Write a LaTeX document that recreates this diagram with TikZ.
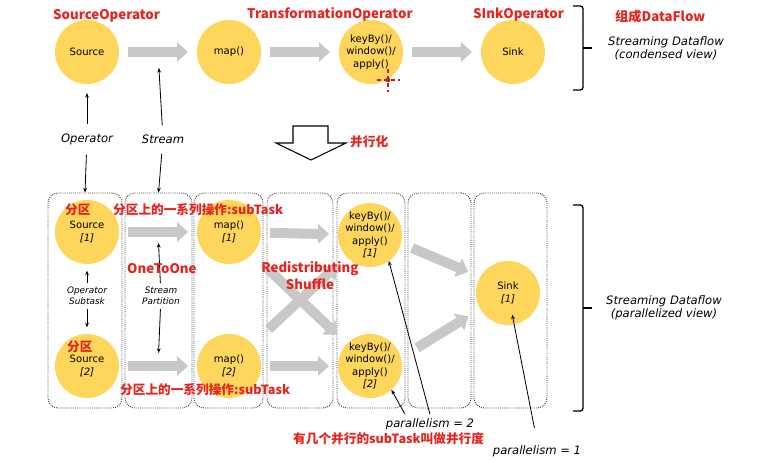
\documentclass[tikz,border=0pt]{standalone}
\usepackage{fontspec}
\setmainfont{DejaVu Sans}
\newfontfamily\cjk{Noto Sans CJK SC}
\usepackage{tikz}
\usetikzlibrary{arrows.meta,calc}
\definecolor{opyellow}{RGB}{254,214,92}
\definecolor{flowgray}{RGB}{200,200,200}
\definecolor{hlred}{RGB}{232,34,28}

\begin{document}
\begin{tikzpicture}[x=0.3mm, y=-0.3mm,
      op/.style={circle, fill=opyellow, minimum size=19.2mm, inner sep=-6pt, outer sep=0pt,
        align=center, font=\fontsize{8.6}{10.7}\selectfont},
      flow/.style={draw=flowgray, line width=3mm,
        -{Triangle[width=6mm,length=3.3mm,line width=0pt]}, shorten <=2.7mm, shorten >=2.7mm},
      ptr/.style={-{Stealth[length=4pt,width=3.2pt]}, line width=0.7pt},
      note/.style={font=\fontsize{9.9}{11}\selectfont\itshape, align=center},
      subnote/.style={font=\fontsize{7.6}{9.4}\selectfont\itshape, align=center},
      redlabel/.style={text=hlred, inner sep=0pt, font=\cjk\bfseries\fontsize{11.3}{14.5}\selectfont},
      redsmall/.style={redlabel, font=\cjk\bfseries\fontsize{10.8}{14}\selectfont},
      partbox/.style={draw=black!75, densely dotted, line width=0.8pt, rounded corners=3mm,
        minimum height=64.5mm, inner sep=0pt},
      bracket/.style={line width=1.1pt, rounded corners=0.8mm}]
      \useasboundingbox (0,0) rectangle (771,461);
      \foreach \i/\l/\r in {1/48/122,2/125/192,3/194/263,4/267/333,5/337/405,6/408/471,7/474/547}
        \node[partbox, minimum width={(\r-\l)*0.3mm}] (p\i) at ({(\l+\r)/2},300.5) {};

      % condensed view
      \node[op] (src) at (87,52) {Source};
      \node[op] (map) at (229,52) {map()};
      \node[op] (kb) at (371,52) {keyBy()/\\window()/\\apply()};
      \node[op] (sink) at (513,52) {Sink};
      \draw[flow] (src) -- coordinate (strm) (map);
      \draw[flow] (map) -- (kb);
      \draw[flow] (kb) -- (sink);

      % parallelized view
      \node[op] (src1) at (87,232) {Source\\\textit{[1]}};
      \node[op] (src2) at (87,366) {Source\\\textit{[2]}};
      \node[op] (map1) at (229,232) {map()\\\textit{[1]}};
      \node[op] (map2) at (229,366) {map()\\\textit{[2]}};
      \node[op] (kb1) at (370,235) {keyBy()/\\window()/\\apply()\\\textit{[1]}};
      \node[op] (kb2) at (370,366) {keyBy()/\\window()/\\apply()\\\textit{[2]}};
      \node[op] (sink1) at (508,293) {Sink\\\textit{[1]}};
      \draw[flow] (src1) -- coordinate (sp1) (map1);
      \draw[flow] (src2) -- coordinate (sp2) (map2);
      \draw[flow] (map1) -- (kb1);
      \draw[flow] (map2) -- (kb2);
      \draw[flow, shorten <=6.6mm, shorten >=4mm] (map1) -- (kb2);
      \draw[flow, shorten <=6.6mm, shorten >=4mm] (map2) -- (kb1);
      \draw[flow, shorten <=3.6mm, shorten >=3.9mm] (kb1.-15) -- (sink1.150);
      \draw[flow, shorten <=5.7mm, shorten >=4.2mm] (kb2.15) -- (sink1.-150);

      \node[note] (oplbl) at (87,139) {Operator};
      \node[note] (stlbl) at (163,139) {Stream};
      \draw[ptr, shorten <=1.5mm, shorten >=2.7mm] (oplbl) -- (src);
      \draw[ptr, shorten <=1.8mm] (oplbl) -- (p1.north);
      \draw[ptr, shorten <=1.5mm, shorten >=4.8mm] (stlbl) -- (strm);
      \draw[ptr, shorten <=1.8mm] (stlbl) -- (p2.north);

      \node[subnote] (osub) at (87,296) {Operator\\Subtask};
      \node[subnote] (spart) at (161,296) {Stream\\Partition};
      \draw[ptr, shorten >=2mm] (osub) -- (src1);
      \draw[ptr, shorten >=2mm] (osub) -- (src2);
      \draw[ptr, shorten >=3.3mm] (spart) -- (sp1);
      \draw[ptr, shorten >=3.9mm] (spart) -- (sp2);

      \node[note] (par2) at (430,424) {parallelism = 2};
      \node[note] (par1) at (537,451) {parallelism = 1};
      \draw[ptr] (par2.north) -- (kb1.-54);
      \draw[ptr] ([xshift=-7.5mm]par2.north) -- (kb2.-48);
      \draw[ptr, shorten <=4mm, shorten >=6.6mm] (par1.north) -- (sink1.center);

      % parallelize arrow
      \draw[line width=0.9pt] (293,126) -- (328,126) -- (328,143) -- (346,143) -- (311,160)
        -- (276,143) -- (293,143) -- cycle;

      \draw[bracket] (573,6) -| (583,90) -- (573,90);
      \draw[line width=1.1pt] (583,48) -- (592,48);
      \draw[bracket] (573,205) -| (583,411) -- (573,411);
      \draw[line width=1.1pt] (583,308) -- (592,308);
      \node[note] (cview) at (666,48) {Streaming Dataflow\\(condensed view)};
      \node[note] (pview) at (664,308) {Streaming Dataflow\\(parallelized view)};

      % cursor
      \draw[hlred!85!black, dashed, line width=1pt] (377,80) -- (400,80) (388,69) -- (388,92);
      \fill[hlred!85!black] (388,80) circle (0.7mm);

      \node[redlabel, anchor=west] (srcop) at (53,16) {SourceOperator};
      \node[redlabel, anchor=west] (trop) at (247,14) {TransformationOperator};
      \node[redlabel, anchor=west] (sinkop) at (473,15) {SInkOperator};
      \node[redlabel, anchor=west] (dflow) at (615,16) {组成DataFlow};
      \node[redsmall, anchor=west] (para) at (350,142) {并行化};
      \node[redsmall, anchor=west] (part1) at (65,210) {分区};
      \node[redsmall, anchor=west] (sub1) at (113,210) {分区上的一系列操作:subTask};
      \node[redlabel, anchor=west] (one) at (127,269) {OneToOne};
      \node[redlabel, align=center] (shuf) at (310,276) {Redistributing\\Shuffle};
      \node[redsmall, anchor=west] (part2) at (67,347) {分区};
      \node[redsmall, anchor=west] (sub2) at (120,390) {分区上的一系列操作:subTask};
      \node[redsmall, anchor=west] (pdeg) at (293,439) {有几个并行的subTask叫做并行度};
    \end{tikzpicture}
\end{document}
